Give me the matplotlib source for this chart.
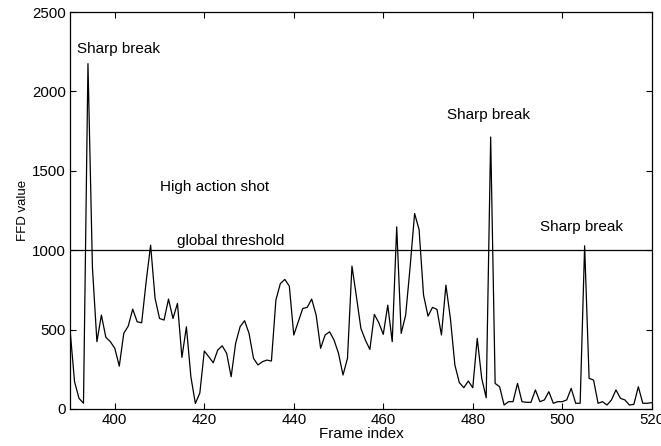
import numpy as np
import matplotlib
matplotlib.use("Agg")
import matplotlib.pyplot as plt

plt.rcParams["font.family"] = ["Liberation Sans", "DejaVu Sans"]

# frame indices 390..520 and FFD values
frames = np.arange(390, 521)
ffd = [
    497, 172, 67, 36, 2175, 890, 424, 591, 451, 424,
    382, 270, 476, 522, 629, 549, 543, 801, 1032, 696,
    570, 560, 692, 570, 665, 325, 518, 203, 35, 100,
    365, 329, 291, 371, 398, 350, 203, 413, 518, 556,
    476, 319, 277, 298, 308, 302, 686, 790, 816, 774,
    466, 549, 633, 640, 692, 591, 382, 466, 486, 434,
    350, 214, 319, 900, 707, 507, 434, 375, 596, 543,
    470, 654, 424, 1147, 476, 591, 895, 1231, 1130, 717,
    585, 640, 627, 466, 780, 570, 277, 166, 134, 176,
    134, 445, 193, 71, 1713, 161, 140, 25, 46, 46,
    161, 46, 42, 42, 120, 46, 57, 109, 36, 46,
    46, 57, 130, 36, 36, 1028, 193, 182, 36, 46,
    25, 57, 120, 67, 57, 25, 29, 140, 36, 36,
    40,
]
threshold = 1000

labels = ["Sharp break", "High action shot", "global threshold", "Sharp break", "Sharp break"]
label_x = [391.6, 410.1, 413.9, 474.3, 495.1]
label_y = [2270, 1396, 1015, 1849, 1145]

fig = plt.figure(figsize=(6.61, 4.46), dpi=100)
ax = fig.add_axes([0.106, 0.083, 0.880, 0.890])

ax.plot(frames, ffd, color="black", linewidth=0.9)
ax.axhline(threshold, color="black", linewidth=0.9)

for txt, x, y in zip(labels, label_x, label_y):
    va = "bottom" if txt == "global threshold" else "center"
    ax.text(x, y, txt, fontsize=11, ha="left", va=va)

ax.set_xlim(390, 520)
ax.set_ylim(0, 2500)
ax.set_xticks(range(400, 521, 20))
ax.set_yticks(range(0, 2501, 500))
ax.tick_params(direction="in", top=True, right=True, labelsize=10.8,
               length=4, width=0.8, pad=3)
for s in ax.spines.values():
    s.set_linewidth(0.9)

ax.set_xlabel("Frame index", fontsize=11, labelpad=0)
ax.set_ylabel("FFD value", fontsize=9.5, labelpad=2)

fig.savefig("out.png", dpi=100)
